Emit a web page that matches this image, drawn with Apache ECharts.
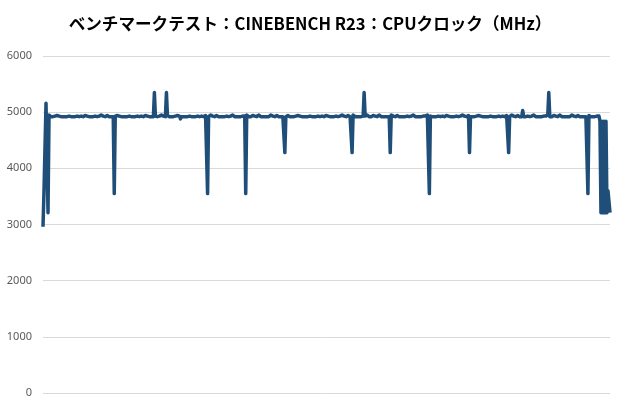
<!DOCTYPE html>
<html><head><meta charset="utf-8">
<script src="https://cdn.jsdelivr.net/npm/echarts@6/dist/echarts.min.js"></script>
<style>html,body{margin:0;padding:0;background:#fff}#c{width:620px;height:410px}</style>
</head><body><div id="c"></div>
<script>
var titleText = 'ベンチマークテスト：CINEBENCH R23：CPUクロック（MHz）';
var yTickLabels = ['0','1000','2000','3000','4000','5000','6000'];
var clockMHz = [
2960,3600,3600,5160,4200,3210,4950,4930,4920,4950,4920,4920,4930,4920,4940,4920,4930,4920,4920,4930,
4920,4930,4920,4950,4920,4920,4930,4920,4920,4940,4920,4930,4920,4920,4930,4950,4920,4920,4930,4920,
4920,4920,4940,4920,4930,4920,4920,4950,4920,4930,4920,4920,4930,4940,4920,4920,4930,4920,4950,4920,
4930,4920,4920,4930,4940,4920,4920,4930,4920,4950,4920,3550,4930,4920,4940,4920,4930,4920,4920,4930,
4920,4930,4920,4950,4920,4920,4930,4920,4920,4940,4920,4930,4920,4920,4930,4950,4920,4920,4930,4920,
4920,4920,4940,4920,4930,4920,4920,4950,4920,4930,4920,5350,4930,4940,4920,4920,4930,4920,4950,4920,
4930,4920,4920,5350,4940,4920,4920,4930,4920,4950,4920,4920,4930,4920,4940,4920,4930,4880,4920,4930,
4920,4930,4920,4950,4920,4920,4930,4920,4920,4940,4920,4930,4920,4920,4930,4950,4920,4920,4930,4920,
4920,4920,4940,4970,3550,4920,4920,4950,4920,4930,4920,4920,4930,4940,4920,4920,4930,4920,4950,4920,
4930,4920,4920,4930,4940,4920,4920,4930,4920,4950,4920,4920,4930,4920,4940,4920,4930,4920,4920,4930,
4920,4930,3550,4950,4920,4920,4930,4920,4920,4940,4920,4930,4920,4920,4930,4950,4920,4920,4930,4920,
4920,4920,4940,4920,4930,4920,4920,4950,4920,4930,4920,4920,4930,4940,4920,4920,4930,4920,4950,4920,
4930,4280,4920,4930,4940,4920,4920,4930,4920,4950,4920,4920,4930,4920,4940,4920,4930,4920,4920,4930,
4920,4930,4920,4950,4920,4920,4930,4920,4920,4940,4920,4930,4920,4920,4930,4950,4920,4920,4930,4920,
4920,4920,4940,4920,4930,4920,4920,4950,4920,4930,4920,4920,4930,4940,4920,4920,4930,4920,4950,4920,
4930,4920,4920,4930,4940,4920,4920,4930,4280,4950,4920,4920,4930,4920,4940,4920,4930,4920,4920,4930,
5350,4930,4920,4950,4920,4920,4930,4920,4920,4940,4920,4930,4920,4920,4930,4950,4920,4920,4930,4920,
4920,4920,4940,4920,4930,4920,4280,4950,4920,4930,4920,4920,4930,4940,4920,4920,4930,4920,4950,4920,
4930,4920,4920,4930,4940,4920,4920,4930,4920,4950,4920,4920,4930,4920,4940,4920,4930,4920,4920,4930,
4920,4930,4920,4950,4920,3550,4930,4920,4920,4940,4920,4930,4920,4920,4930,4950,4920,4920,4930,4920,
4920,4920,4940,4920,4930,4920,4920,4950,4920,4930,4920,4920,4930,4940,4920,4920,4930,4920,4950,4920,
4930,4920,4920,4930,4940,4280,4920,4930,4920,4950,4920,4920,4930,4920,4940,4920,4930,4920,4920,4930,
4920,4930,4920,4950,4920,4920,4930,4920,4920,4940,4920,4930,4920,4920,4930,4950,4920,4920,4930,4920,
4920,4920,4940,4920,4280,4920,4920,4950,4920,4930,4920,4920,4930,4940,4920,4920,4930,4920,5030,4920,
4930,4920,4920,4930,4940,4920,4920,4930,4920,4950,4920,4920,4930,4920,4940,4920,4930,4920,4920,4930,
4920,4930,4920,4950,5350,4920,4930,4920,4920,4940,4920,4930,4920,4920,4930,4950,4920,4920,4930,4920,
4920,4920,4940,4920,4930,4920,4920,4950,4920,4930,4920,4920,4930,4940,4920,4920,4930,4920,4950,4920,
4930,4920,4920,3550,4940,4920,4920,4930,4920,4950,4920,4920,4930,4920,4930,4840,3210,4840,3210,4840,
3210,4840,3210,3600,3600,3210
];
var sampleIdx = clockMHz.map(function(_, i){ return i; });

var chart = echarts.init(document.getElementById('c'), null, {renderer:'canvas'});
chart.setOption({
  animation:false,
  backgroundColor:'#ffffff',
  title:{
    text:titleText, left:'center', top:10,
    textStyle:{fontFamily:'"Noto Sans CJK JP", sans-serif', fontSize:16.6, fontWeight:'bold', color:'#000'}
  },
  grid:{left:43, right:10, top:56, bottom:17, containLabel:false},
  xAxis:{
    type:'category', data:sampleIdx, boundaryGap:false,
    axisLine:{show:false}, axisTick:{show:false}, axisLabel:{show:false}, splitLine:{show:false}
  },
  yAxis:{
    type:'value', min:0, max:6000, interval:1000,
    axisLine:{show:false}, axisTick:{show:false},
    axisLabel:{margin:11, color:'#595959', fontSize:11, fontFamily:'"Noto Sans", sans-serif',
      formatter:function(v){ return yTickLabels[Math.round(v/1000)]; }},
    splitLine:{lineStyle:{color:'#d9d9d9', width:1}}
  },
  series:[{
    type:'line', data:clockMHz, showSymbol:false, symbol:'none',
    lineStyle:{color:'#1F4E79', width:3.5, join:'round'}
  }]
});
</script></body></html>
